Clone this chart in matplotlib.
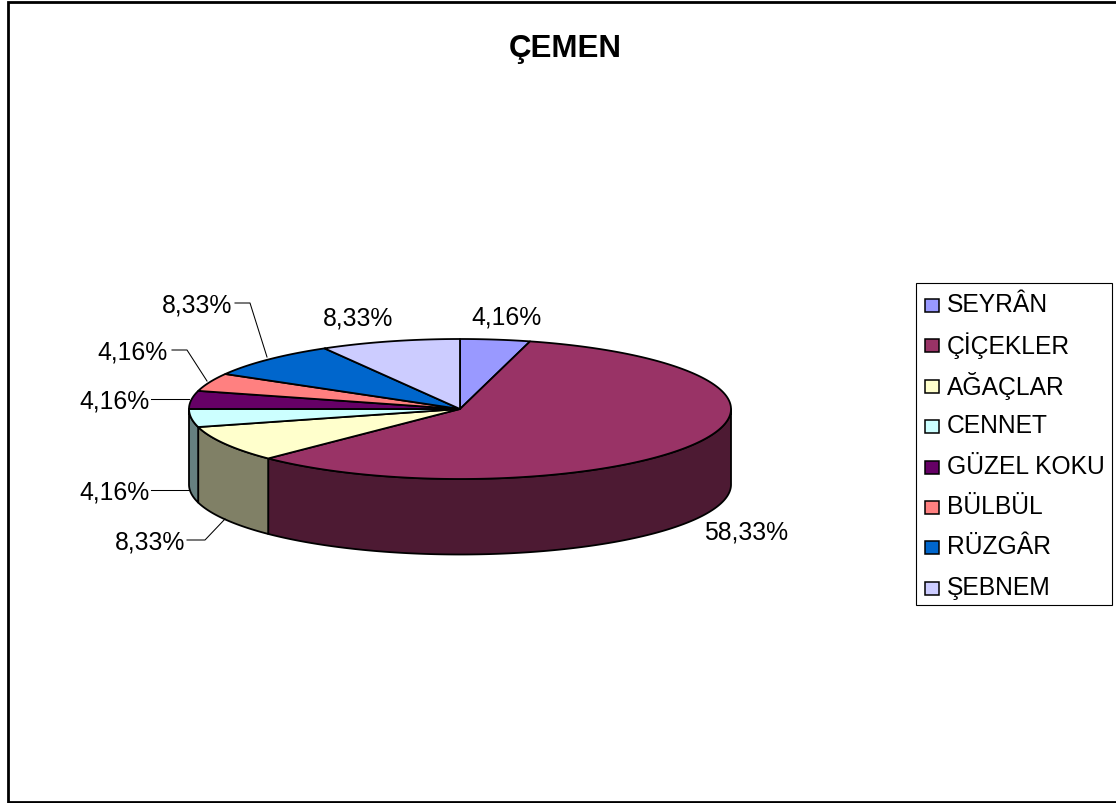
import numpy as np
import matplotlib
matplotlib.use("Agg")
import matplotlib.pyplot as plt
from matplotlib.patches import Polygon, Rectangle

categories = ["SEYRÂN", "ÇİÇEKLER", "AĞAÇLAR", "CENNET", "GÜZEL KOKU", "BÜLBÜL", "RÜZGÂR", "ŞEBNEM"]
shares = [4.16, 58.33, 8.33, 4.16, 4.16, 4.16, 8.33, 8.33]
share_labels = ["4,16%", "58,33%", "8,33%", "4,16%", "4,16%", "4,16%", "8,33%", "8,33%"]
top_colors = ["#9999FF", "#993366", "#FFFFCC", "#CCFFFF", "#660066", "#FF8080", "#0066CC", "#CCCCFF"]
side_colors = ["#4D4D80", "#4D1A33", "#808066", "#668080", "#330033", "#804040", "#003366", "#666680"]
title = "ÇEMEN"

W, H = 1116, 804
CX, CY, RX, RY, DEPTH = 460, 410, 271, 70, 75.5
FONT = "Liberation Sans"

fig = plt.figure(figsize=(W / 100, H / 100), dpi=100)
ax = fig.add_axes([0, 0, 1, 1])
ax.set_xlim(0, W)
ax.set_ylim(H, 0)
ax.axis("off")

ax.add_patch(Rectangle((8, 3), W + 10, 799.5, fc="white", ec="black", lw=2.0, zorder=0))
ax.text(565, 49, title, ha="center", va="center", fontsize=22.5, fontweight="bold", family=FONT, color="black")

edges = np.concatenate([[0], np.cumsum(shares)])
edges = edges / edges[-1] * 360


def rim(a0, a1, dy=0.0):
    t = np.radians(np.linspace(a0, a1, max(int(abs(a1 - a0) * 2), 2)))
    return np.column_stack([CX + RX * np.sin(t), CY - RY * np.cos(t) + dy])


EDGE = dict(ec="black", lw=1.3, joinstyle="round")
# side walls: only the part of the rim facing the viewer (90..270 degrees)
for i in range(len(shares)):
    a0, a1 = max(edges[i], 90), min(edges[i + 1], 270)
    if a1 > a0:
        upper = rim(a0, a1)
        lower = rim(a1, a0, DEPTH)
        ax.add_patch(Polygon(np.vstack([upper, lower]), closed=True, fc=side_colors[i], zorder=2, **EDGE))
# top faces
for i in range(len(shares)):
    pts = np.vstack([[[CX, CY]], rim(edges[i], edges[i + 1])])
    ax.add_patch(Polygon(pts, closed=True, fc=top_colors[i], zorder=3, **EDGE))

# data labels, centre positions
label_pos = [(506, 318), (746, 533), (150, 543), (115, 493), (115, 402), (133, 353), (197, 306), (358, 319)]
for s, (x, y) in zip(share_labels, label_pos):
    ax.text(x, y, s, ha="center", va="center", fontsize=17.8, family=FONT, color="black", zorder=5)

leaders = [
    [(187, 541), (205, 541), (225, 520)],
    [(151, 491), (189, 491)],
    [(151, 400), (189, 400)],
    [(172, 351), (187, 351), (207, 382)],
    [(235, 304), (250, 304), (267, 358)],
]
for seg in leaders:
    xs, ys = zip(*seg)
    ax.plot(xs, ys, color="black", lw=0.75, zorder=4)

# legend
ax.add_patch(Rectangle((915.5, 283.5), 196.5, 322.5, fc="white", ec="black", lw=0.8, zorder=4))
for i, name in enumerate(categories):
    y = 305 + i * 40.4
    ax.add_patch(Rectangle((925, y - 5), 14, 13, fc=top_colors[i], ec="black", lw=1.1, zorder=5))
    ax.text(947, y, name, ha="left", va="center", fontsize=17.7, family=FONT, color="black", zorder=5)

fig.savefig("out.png", dpi=100)
